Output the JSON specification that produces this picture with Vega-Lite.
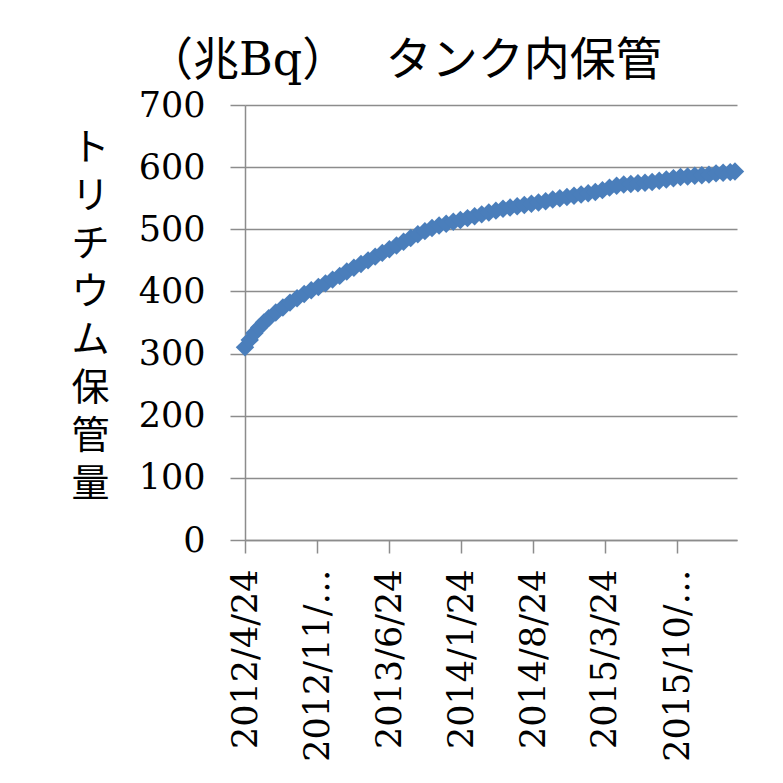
{
  "$schema": "https://vega.github.io/schema/vega-lite/v6.json",
  "width": 492,
  "height": 435,
  "autosize": "none",
  "padding": {"left": 245, "top": 105, "right": 46, "bottom": 243},
  "background": "white",
  "title": {
    "text": "（兆Bq）　  タンク内保管",
    "anchor": "start",
    "frame": "group",
    "dx": -98,
    "offset": 3,
    "font": "DejaVu Serif, Noto Sans CJK JP",
    "fontSize": 46,
    "fontWeight": "normal",
    "color": "black"
  },
  "data": {
    "values": [
      {"date": "2012-04-24", "v": 310},
      {"date": "2012-05-08", "v": 322},
      {"date": "2012-05-22", "v": 333},
      {"date": "2012-06-05", "v": 342},
      {"date": "2012-06-19", "v": 350},
      {"date": "2012-07-03", "v": 357},
      {"date": "2012-07-24", "v": 366},
      {"date": "2012-08-14", "v": 374},
      {"date": "2012-09-04", "v": 382},
      {"date": "2012-09-25", "v": 389},
      {"date": "2012-10-16", "v": 396},
      {"date": "2012-11-06", "v": 402},
      {"date": "2012-11-27", "v": 407},
      {"date": "2012-12-18", "v": 413},
      {"date": "2013-01-08", "v": 419},
      {"date": "2013-01-29", "v": 425},
      {"date": "2013-02-19", "v": 432},
      {"date": "2013-03-12", "v": 438},
      {"date": "2013-04-02", "v": 444},
      {"date": "2013-04-23", "v": 450},
      {"date": "2013-05-14", "v": 456},
      {"date": "2013-06-04", "v": 462},
      {"date": "2013-06-25", "v": 468},
      {"date": "2013-07-16", "v": 474},
      {"date": "2013-08-06", "v": 480},
      {"date": "2013-08-27", "v": 486},
      {"date": "2013-09-17", "v": 492},
      {"date": "2013-10-08", "v": 497},
      {"date": "2013-10-29", "v": 502},
      {"date": "2013-11-19", "v": 506},
      {"date": "2013-12-10", "v": 509},
      {"date": "2013-12-31", "v": 512},
      {"date": "2014-01-21", "v": 515},
      {"date": "2014-02-11", "v": 518},
      {"date": "2014-03-04", "v": 521},
      {"date": "2014-03-25", "v": 524},
      {"date": "2014-04-15", "v": 527},
      {"date": "2014-05-06", "v": 530},
      {"date": "2014-05-27", "v": 533},
      {"date": "2014-06-17", "v": 535},
      {"date": "2014-07-08", "v": 537},
      {"date": "2014-07-29", "v": 539},
      {"date": "2014-08-19", "v": 541},
      {"date": "2014-09-09", "v": 543},
      {"date": "2014-09-30", "v": 545},
      {"date": "2014-10-21", "v": 548},
      {"date": "2014-11-11", "v": 550},
      {"date": "2014-12-02", "v": 552},
      {"date": "2014-12-23", "v": 554},
      {"date": "2015-01-13", "v": 556},
      {"date": "2015-02-03", "v": 558},
      {"date": "2015-02-24", "v": 560},
      {"date": "2015-03-17", "v": 563},
      {"date": "2015-04-07", "v": 567},
      {"date": "2015-04-28", "v": 570},
      {"date": "2015-05-19", "v": 572},
      {"date": "2015-06-09", "v": 573},
      {"date": "2015-06-30", "v": 574},
      {"date": "2015-07-21", "v": 575},
      {"date": "2015-08-11", "v": 576},
      {"date": "2015-09-01", "v": 578},
      {"date": "2015-09-22", "v": 580},
      {"date": "2015-10-13", "v": 582},
      {"date": "2015-11-03", "v": 584},
      {"date": "2015-11-24", "v": 585},
      {"date": "2015-12-15", "v": 586},
      {"date": "2016-01-05", "v": 587},
      {"date": "2016-01-26", "v": 588},
      {"date": "2016-02-16", "v": 590},
      {"date": "2016-03-08", "v": 591},
      {"date": "2016-03-29", "v": 592},
      {"date": "2016-04-12", "v": 593}
    ]
  },
  "encoding": {
    "x": {
      "field": "date",
      "type": "temporal",
      "scale": {"type": "utc", "domain": [{"year": 2012, "month": 4, "date": 24, "utc": true}, {"year": 2016, "month": 4, "date": 18, "utc": true}]},
      "axis": {
        "title": null,
        "grid": false,
        "values": [
          {"year": 2012, "month": 4, "date": 24, "utc": true},
          {"year": 2012, "month": 11, "date": 24, "utc": true},
          {"year": 2013, "month": 6, "date": 24, "utc": true},
          {"year": 2014, "month": 1, "date": 24, "utc": true},
          {"year": 2014, "month": 8, "date": 24, "utc": true},
          {"year": 2015, "month": 3, "date": 24, "utc": true},
          {"year": 2015, "month": 10, "date": 24, "utc": true}
        ],
        "labelExpr": "utcmonth(datum.value) >= 9 ? utcFormat(datum.value, '%Y/%-m/') + '…' : utcFormat(datum.value, '%Y/%-m/%-d')",
        "labelAngle": -90,
        "labelFont": "DejaVu Serif",
        "labelFontSize": 35,
        "labelColor": "black",
        "labelPadding": 16,
        "labelLimit": 400,
        "labelOverlap": false,
        "labelFlush": false,
        "tickSize": 13,
        "tickColor": "#8c8c8c",
        "tickWidth": 1.5,
        "domainColor": "#8c8c8c",
        "domainWidth": 1.5
      }
    },
    "y": {
      "field": "v",
      "type": "quantitative",
      "scale": {"domain": [0, 700], "nice": false},
      "axis": {
        "values": [0, 100, 200, 300, 400, 500, 600, 700],
        "title": ["ト", "リ", "チ", "ウ", "ム", "保", "管", "量"],
        "titleFont": "Noto Sans CJK JP",
        "titleFontSize": 38,
        "titleFontWeight": "normal",
        "titleLineHeight": 48,
        "titleAngle": 0,
        "titleAlign": "center",
        "titleBaseline": "top",
        "titleX": -155,
        "titleY": 24,
        "titleColor": "black",
        "labelFont": "DejaVu Serif",
        "labelFontSize": 35,
        "labelColor": "black",
        "labelPadding": 25,
        "tickSize": 15,
        "tickColor": "#8c8c8c",
        "tickWidth": 1.5,
        "domainColor": "#8c8c8c",
        "domainWidth": 1.5,
        "gridColor": "#8c8c8c",
        "gridWidth": 1.5,
        "gridOpacity": 1
      }
    }
  },
  "layer": [
    {"mark": {"type": "line", "color": "#4a7ebb", "strokeWidth": 3}},
    {"mark": {"type": "point", "shape": "diamond", "filled": true, "color": "#4a7ebb", "opacity": 1, "size": 340}}
  ],
  "config": {"view": {"stroke": null}}
}
